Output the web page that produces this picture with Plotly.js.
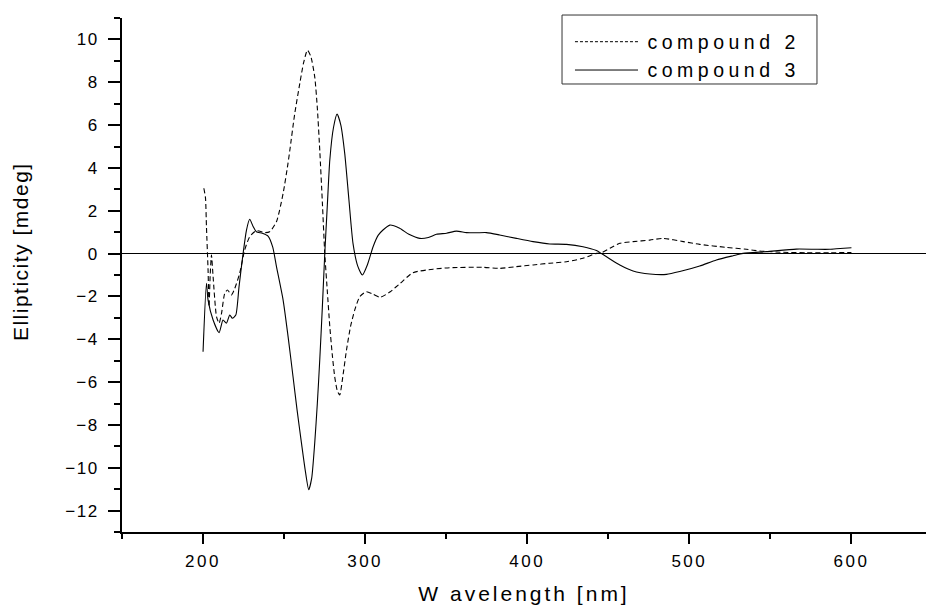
<!DOCTYPE html>
<html>
<head>
<meta charset="utf-8">
<script src="https://cdn.plot.ly/plotly-3.0.1.min.js"></script>
<style>
  html, body { margin: 0; padding: 0; background: #fff; }
  #chart { width: 926px; height: 605px; }
  .xtick text { letter-spacing: 2.5px; }
  .ytick text { letter-spacing: 1.5px; }
  .g-xtitle text { letter-spacing: 3px; }
  .annotation[data-index="0"] text { letter-spacing: 1.5px; }
  .annotation[data-index="1"] text, .annotation[data-index="2"] text { letter-spacing: 4.5px; }
</style>
</head>
<body>
<div id="chart"></div>
<script>
// Wavelength (nm) and ellipticity (mdeg)
const wlCompound2 = [200.5, 201.5, 202.1, 203.1, 203.7, 204.4, 205.2, 206.2, 208.3, 209.9, 211.4, 213.4, 215.1, 217.5, 219.6, 222.6, 225.7, 228.8, 232.9, 238.1, 241.1, 245.3, 249.4, 252.4, 253.5, 256.5, 259.7, 262, 264.4, 266.5, 268.9, 270.5, 272.0, 273.6, 275.1, 276.7, 278.2, 279.7, 281.2, 282.8, 284.3, 286.3, 288.5, 291, 293.6, 296.7, 300.8, 305, 309.3, 315.5, 321.6, 329.5, 341.9, 352.1, 372.7, 383.0, 393.3, 403.6, 413.9, 424.2, 434.4, 442.7, 445.8, 451, 457.1, 465.3, 475.6, 483.8, 496.2, 506.4, 522.9, 535.2, 543.4, 557.8, 572.2, 586.6, 600];
const cdCompound2 = [3.05, 2.6, 1.26, -0.77, -2.48, -1.0, -0.07, -1.08, -2.94, -3.25, -2.79, -1.85, -1.70, -1.93, -1.62, -0.92, 0.17, 0.79, 1.07, 0.98, 1.02, 1.49, 2.81, 4.21, 4.8, 6.5, 7.95, 8.9, 9.50, 9.2, 8.25, 6.8, 4.83, 2.4, 0.0, -1.8, -3.41, -4.7, -5.74, -6.4, -6.60, -5.7, -4.50, -3.4, -2.63, -2.01, -1.78, -1.9, -2.04, -1.78, -1.39, -0.89, -0.73, -0.66, -0.64, -0.69, -0.61, -0.53, -0.45, -0.38, -0.22, 0.01, 0.04, 0.25, 0.48, 0.56, 0.63, 0.71, 0.56, 0.43, 0.29, 0.20, 0.12, 0.06, 0.04, 0.04, 0.05];

const wlCompound3 = [200, 202.1, 203.1, 206.2, 209.9, 212.3, 214.4, 216.5, 218.1, 220.2, 222.2, 224.7, 226.8, 228.8, 230.9, 232.9, 236.5, 240.1, 243, 245.3, 249.4, 252.5, 255.5, 258, 260.7, 263, 265.2, 267, 268.9, 270.5, 272.0, 273.6, 275.1, 276.7, 278.2, 280.5, 282.7, 285, 287.4, 290, 292.5, 295.5, 298.3, 301.5, 304.9, 308, 311.0, 315.2, 321.3, 327, 333.7, 339, 344.0, 350.2, 356.3, 362.5, 368.5, 374.8, 383.0, 393.3, 403.6, 413.9, 424.2, 434.4, 442.7, 445.8, 451, 457.1, 465.3, 475.6, 485.9, 494.1, 506.4, 516.7, 527, 533.1, 547.5, 566, 578.4, 586.6, 593, 600];
const cdCompound3 = [-4.58, -1.39, -2.17, -3.10, -3.69, -3.10, -3.25, -2.87, -3.02, -2.87, -1.54, 0.0, 1.10, 1.60, 1.26, 1.02, 0.95, 0.82, 0.3, -0.61, -2.17, -3.9, -5.74, -7.3, -8.84, -10.1, -11.03, -10.5, -8.84, -7.0, -4.96, -2.5, 0.0, 2.3, 4.37, 5.9, 6.51, 6.0, 4.68, 2.5, 0.48, -0.6, -1.0, -0.5, 0.32, 0.85, 1.10, 1.33, 1.18, 0.9, 0.71, 0.75, 0.90, 0.95, 1.05, 0.98, 0.97, 0.98, 0.87, 0.71, 0.56, 0.45, 0.43, 0.32, 0.14, 0.0, -0.25, -0.53, -0.81, -0.95, -0.97, -0.84, -0.58, -0.30, -0.10, 0.01, 0.09, 0.21, 0.20, 0.20, 0.24, 0.27];

const seriesNames = ['compound 2', 'compound 3'];
const xTitle = 'W avelength [nm]';
const yTitle = 'Ellipticity [mdeg]';

const FONT = '"Liberation Sans", Arial, sans-serif';
const DASH = '5px,3px';

const traces = [
  {
    x: wlCompound2, y: cdCompound2, name: seriesNames[0],
    type: 'scatter', mode: 'lines', showlegend: false,
    line: { color: '#000', width: 1.1, dash: DASH, shape: 'spline', smoothing: 0.6 }
  },
  {
    x: wlCompound3, y: cdCompound3, name: seriesNames[1],
    type: 'scatter', mode: 'lines', showlegend: false,
    line: { color: '#000', width: 1.1, shape: 'spline', smoothing: 0.6 }
  }
];

// Legend drawn as a framed box with sample lines (paper coordinates)
const legendBox = { x0: 0.5473, x1: 0.8644, y0: 0.8716, y1: 1.0058 };
const legendRows = [0.9539, 0.8988];
const legendLineX = [0.5634, 0.6418];
const legendTextX = 0.6795;

const shapes = [
  { type: 'rect', xref: 'paper', yref: 'paper',
    x0: legendBox.x0, x1: legendBox.x1, y0: legendBox.y0, y1: legendBox.y1,
    line: { color: '#333', width: 1 }, fillcolor: '#fff', layer: 'above' },
  { type: 'line', xref: 'paper', yref: 'paper',
    x0: legendLineX[0], x1: legendLineX[1], y0: legendRows[0], y1: legendRows[0],
    line: { color: '#000', width: 1, dash: '3px,2px' }, layer: 'above' },
  { type: 'line', xref: 'paper', yref: 'paper',
    x0: legendLineX[0], x1: legendLineX[1], y0: legendRows[1], y1: legendRows[1],
    line: { color: '#000', width: 1 }, layer: 'above' }
];

const layout = {
  width: 926, height: 605,
  margin: { l: 122, r: 0, t: 18, b: 73, pad: 0 },
  paper_bgcolor: '#fff', plot_bgcolor: '#fff',
  font: { family: FONT, color: '#000', size: 17 },
  showlegend: false,
  xaxis: {
    range: [150, 646], showgrid: false, zeroline: false,
    showline: true, linecolor: '#000', linewidth: 2,
    ticks: 'outside', ticklen: 10, tickwidth: 2, tickcolor: '#000',
    tick0: 0, dtick: 100,
    minor: { ticks: 'outside', ticklen: 5, tickwidth: 2, tickcolor: '#000', tick0: 0, dtick: 50 },
    tickfont: { family: FONT, size: 17, color: '#000' },
    ticklabelstandoff: 3,
    title: { text: xTitle, font: { family: FONT, size: 21, color: '#000' }, standoff: 16 }
  },
  yaxis: {
    range: [-13, 11], showgrid: false,
    zeroline: true, zerolinecolor: '#000', zerolinewidth: 1.6,
    showline: true, linecolor: '#000', linewidth: 2,
    ticks: 'outside', ticklen: 12, tickwidth: 2, tickcolor: '#000',
    tick0: 0, dtick: 2,
    minor: { ticks: 'outside', ticklen: 6, tickwidth: 2, tickcolor: '#000', tick0: 0, dtick: 1 },
    tickfont: { family: FONT, size: 17, color: '#000' },
    ticklabelstandoff: 6
  },
  shapes: shapes,
  annotations: [
    {
      text: yTitle, textangle: -90, showarrow: false,
      xref: 'paper', yref: 'paper', x: -0.126, y: 0.545,
      xanchor: 'center', yanchor: 'middle',
      font: { family: FONT, size: 21, color: '#000' }
    },
    {
      text: seriesNames[0], showarrow: false,
      xref: 'paper', yref: 'paper', x: legendTextX, y: legendRows[0],
      xanchor: 'left', yanchor: 'middle',
      font: { family: FONT, size: 19.5, color: '#000' }
    },
    {
      text: seriesNames[1], showarrow: false,
      xref: 'paper', yref: 'paper', x: legendTextX, y: legendRows[1],
      xanchor: 'left', yanchor: 'middle',
      font: { family: FONT, size: 19.5, color: '#000' }
    }
  ]
};

Plotly.newPlot('chart', traces, layout, { displayModeBar: false, staticPlot: true });
</script>
</body>
</html>
